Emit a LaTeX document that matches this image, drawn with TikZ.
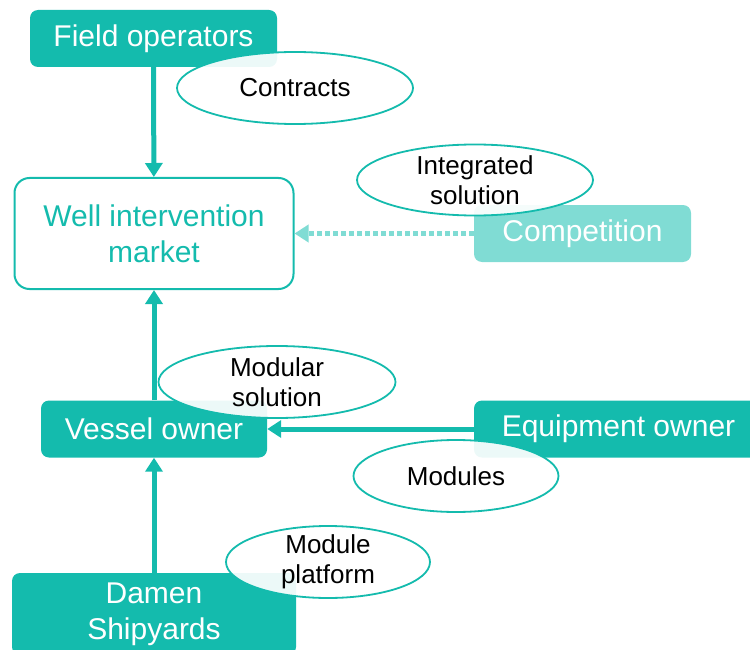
\documentclass[tikz,border=0pt]{standalone}
\usepackage{fontspec}
\setmainfont{Liberation Sans}
\usetikzlibrary{arrows.meta, positioning, shapes.geometric}

\definecolor{dteal}{HTML}{14BBAD}
\definecolor{lteal}{HTML}{80DCD4}

\begin{document}
\begin{tikzpicture}[x=1pt, y=-1pt,
    actor/.style={fill=dteal, rounded corners=8pt, text=white, inner sep=0pt,
        align=center, font=\fontsize{30}{36}\selectfont},
    flowtag/.style={ellipse, draw=dteal, line width=1.8pt, fill=white,
        fill opacity=0.92, text opacity=1, inner xsep=0pt, inner ysep=-8pt,
        align=center, font=\fontsize{26}{30}\selectfont},
    flow/.style={draw=dteal, line width=5pt, -{Triangle[length=14pt, width=17pt]}}]
    \useasboundingbox (0,0) rectangle (750,650);

    % Actors
    \node[actor, minimum width=247pt, minimum height=57pt] (fieldop) at (153.5,38.5) {Field operators};
    \node[draw=dteal, line width=2pt, rounded corners=15pt, text=dteal, inner sep=0pt,
        align=center, font=\fontsize{30}{36}\selectfont,
        minimum width=279pt, minimum height=111pt] (market) at (154,233.5) {Well intervention\\market};
    \node[actor, fill=lteal, minimum width=217pt, minimum height=57pt] (compet) at (582.5,233.5) {Competition};
    \node[actor, minimum width=226pt, minimum height=57pt] (vessel) at (154,429) {Vessel owner};
    \node[actor, minimum width=289pt, minimum height=57pt] (equip) at (618.5,429) {Equipment owner};
    \node[actor, minimum width=284pt, minimum height=82pt] (damen) at (154,614) {Damen\\Shipyards};

    % Flows
    \draw[flow] (fieldop) -- (market);
    \draw[flow] (vessel) -- (market);
    \draw[flow] (damen) -- (vessel);
    \draw[flow] (equip) -- (vessel);
    \draw[flow, draw=lteal, dash pattern=on 5pt off 3pt] (compet) -- (market);

    % What flows
    \node[flowtag, minimum width=236pt, minimum height=72pt] (contracts) at (295,88) {Contracts};
    \node[flowtag, minimum width=236pt, minimum height=71pt] (integrated) at (475,180) {Integrated\\solution};
    \node[flowtag, minimum width=237pt, minimum height=72pt] (modular) at (277,382) {Modular\\solution};
    \node[flowtag, minimum width=205pt, minimum height=72pt] (modules) at (456,476) {Modules};
    \node[flowtag, minimum width=204pt, minimum height=72pt] (platform) at (328,562) {Module\\platform};
\end{tikzpicture}
\end{document}
